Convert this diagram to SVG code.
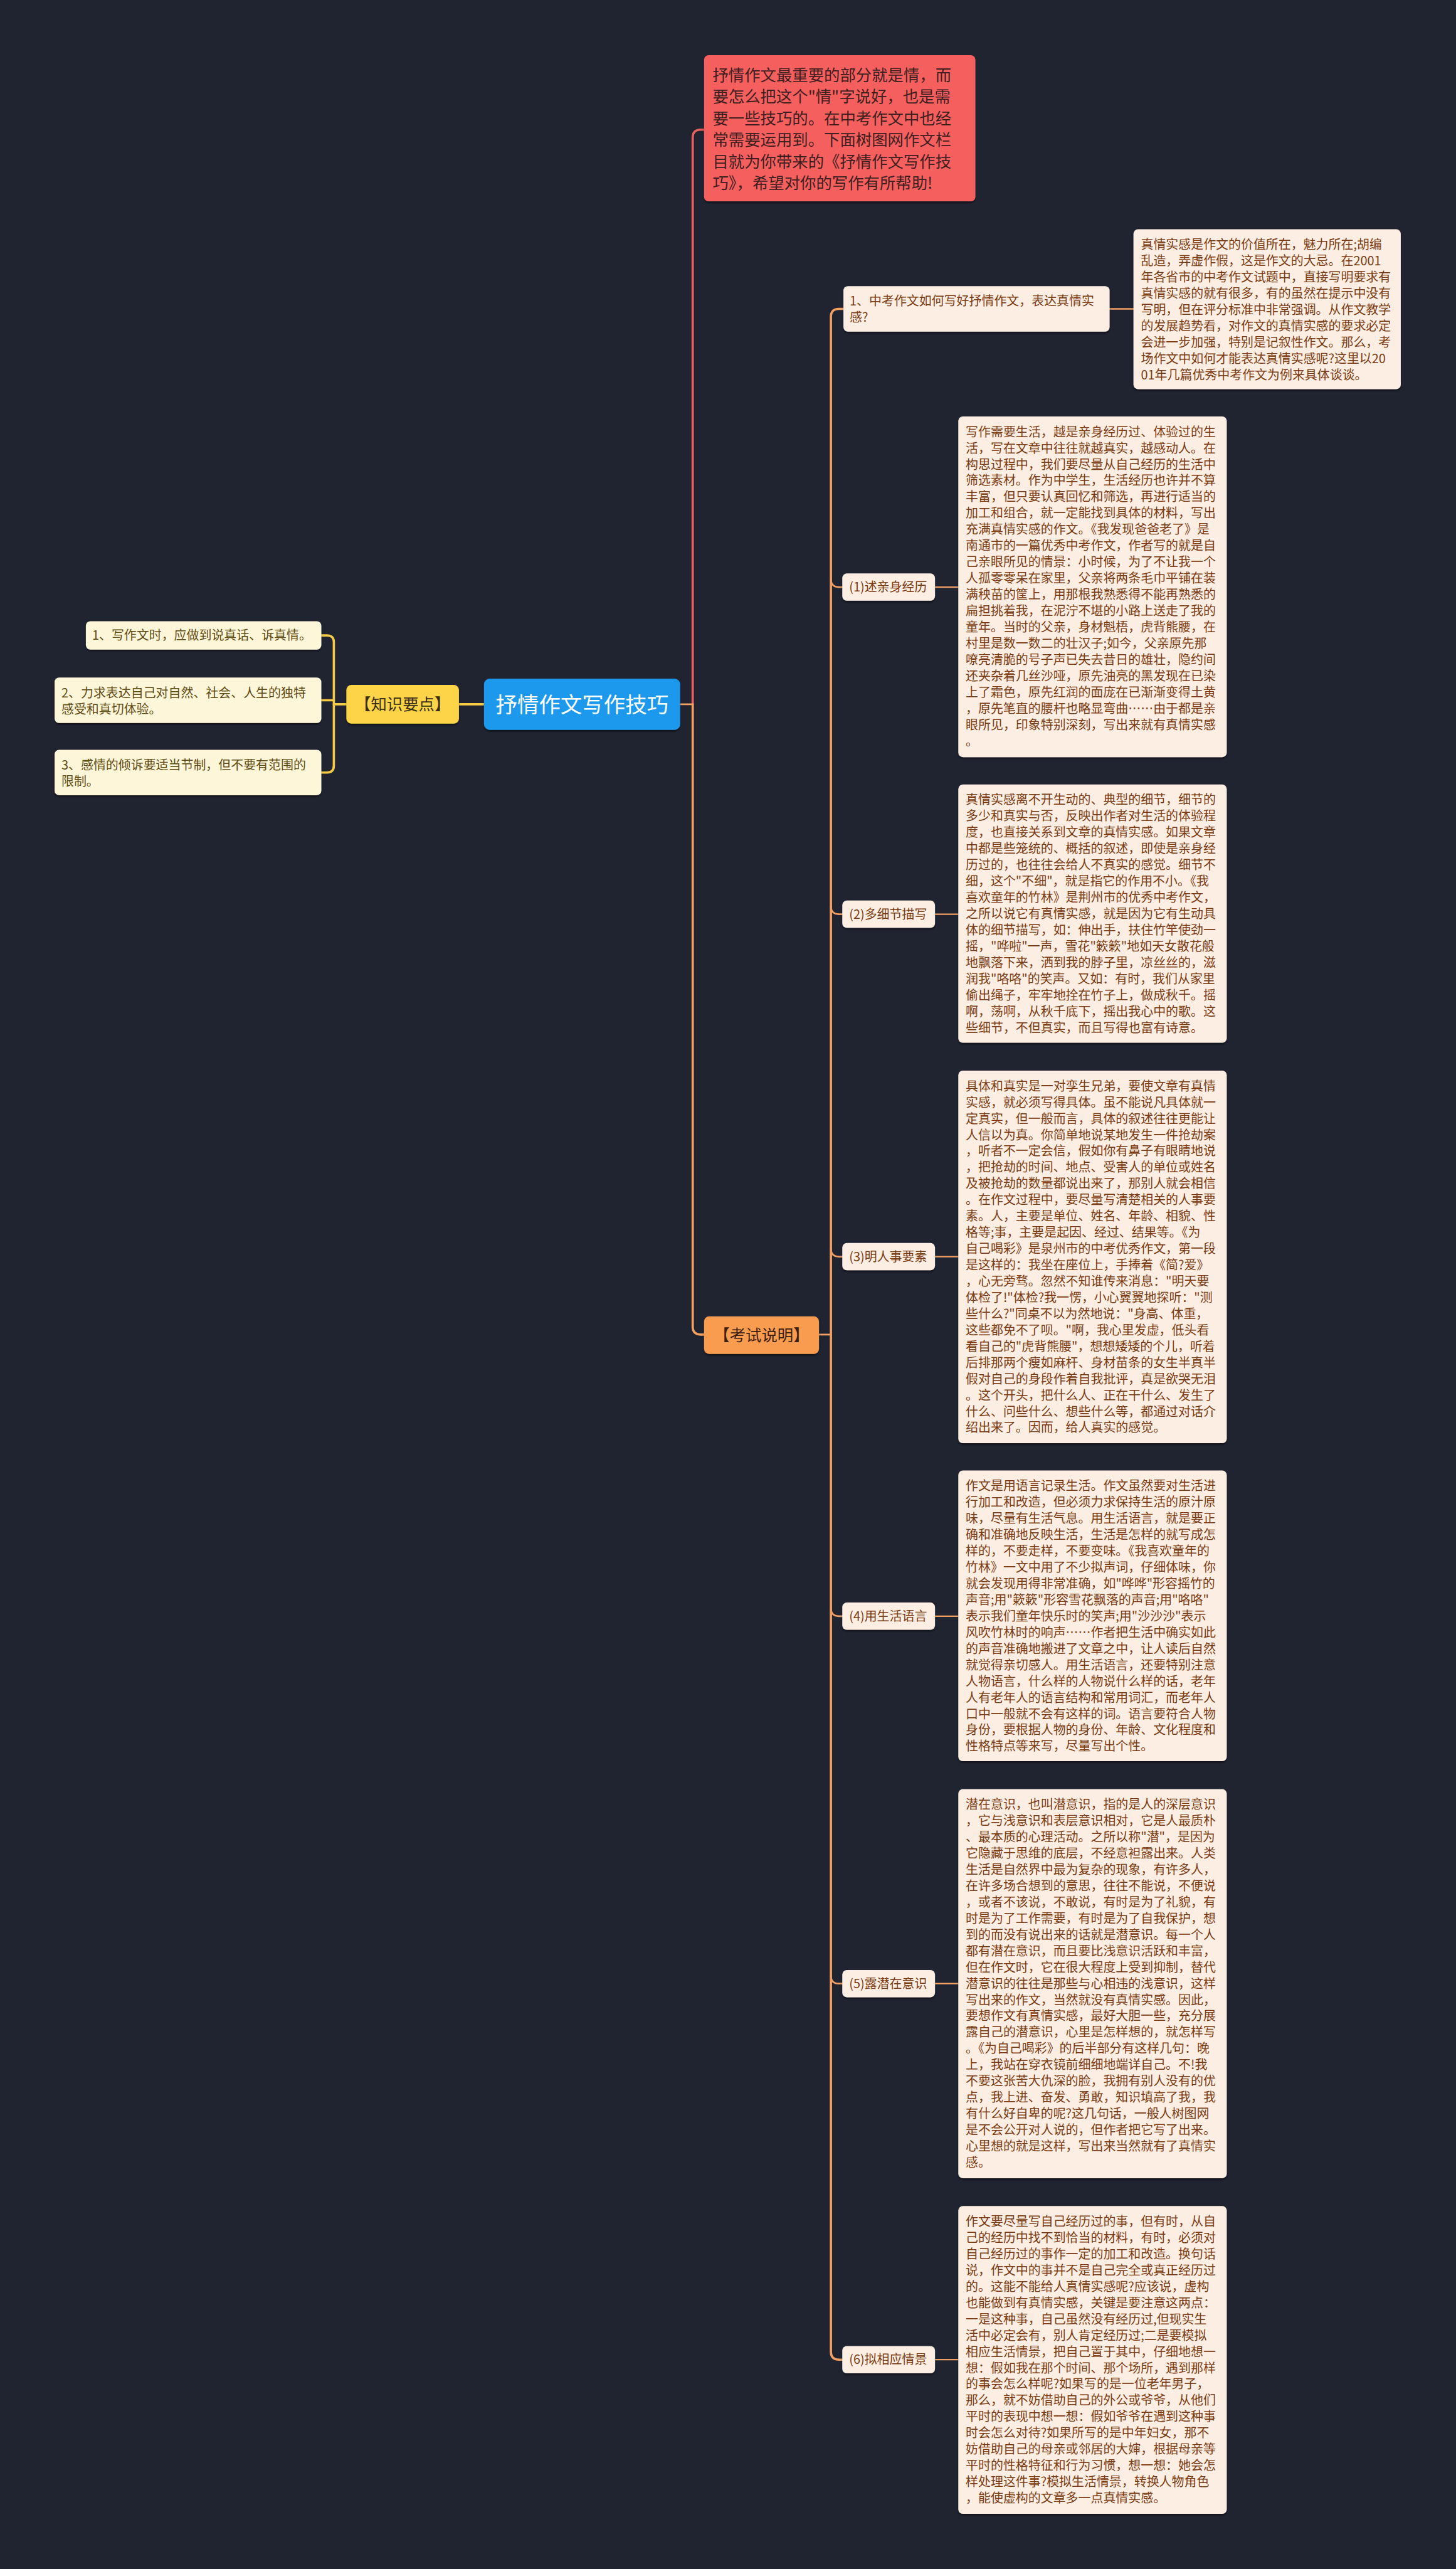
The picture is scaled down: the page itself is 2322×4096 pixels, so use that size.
<svg xmlns="http://www.w3.org/2000/svg" width="2322" height="4096" viewBox="0 0 2322 4096">
<defs>
<filter id="sh" x="-10%" y="-10%" width="120%" height="130%"><feDropShadow dx="0" dy="3" stdDeviation="2" flood-color="#000" flood-opacity="0.45"/></filter>
</defs>
<style>
text{font-family:'Noto Sans CJK SC','Noto Sans',sans-serif;}
.box{fill:#fdeee3;filter:url(#sh);}
.leaf{fill:#fdf6d9;filter:url(#sh);}
.lbl{fill:#fdeee3;filter:url(#sh);}
.t{font-size:22px;fill:#7a3b12;}
.tl{font-size:22px;fill:#5f4a12;}
.or{fill:none;stroke:#f2a063;stroke-linecap:round;}
.ye{fill:none;stroke:#f5cb45;stroke-linecap:round;}
.rd{fill:none;stroke:#e8605f;stroke-linecap:round;}
</style>
<rect x="0" y="0" width="2322" height="4096" fill="#202431"/>
<g transform="scale(0.907)">
<g id="connectors">
<path class="ye" stroke-width="4" d="M807 1238 L851 1238"/>
<path class="ye" stroke-width="4" d="M609 1238 L587 1238"/>
<path class="ye" stroke-width="4" d="M565 1117 L575 1117 Q587 1117 587 1129 L587 1346 Q587 1358 575 1358 L565 1358"/>
<path class="ye" stroke-width="4" d="M565 1231 L587 1231"/>
<path class="or" stroke-width="3" d="M1196 1238 L1218 1238"/>
<path class="rd" stroke-width="4" d="M1218 1238 L1218 242 Q1218 228 1232 228 L1238 228"/>
<path class="or" stroke-width="4" d="M1218 1238 L1218 2332 Q1218 2346 1232 2346 L1238 2346"/>
<path class="or" stroke-width="3" d="M1440 2346 L1461 2346"/>
<path class="or" stroke-width="4" d="M1483 543 L1475 543 Q1461 543 1461 557 L1461 4134 Q1461 4148 1475 4148 L1481 4148"/>
<path class="or" stroke-width="3" d="M1461 1018 Q1461 1032 1475 1032 L1481 1032"/>
<path class="or" stroke-width="3" d="M1461 1593 Q1461 1607 1475 1607 L1481 1607"/>
<path class="or" stroke-width="3" d="M1461 2195 Q1461 2209 1475 2209 L1481 2209"/>
<path class="or" stroke-width="3" d="M1461 2827 Q1461 2841 1475 2841 L1481 2841"/>
<path class="or" stroke-width="3" d="M1461 3473 Q1461 3487 1475 3487 L1481 3487"/>
<path class="or" stroke-width="2.5" d="M1951 543 L1993 543"/>
<path class="or" stroke-width="2.5" d="M1644 1032 L1685 1032"/>
<path class="or" stroke-width="2.5" d="M1644 1607 L1685 1607"/>
<path class="or" stroke-width="2.5" d="M1644 2209 L1685 2209"/>
<path class="or" stroke-width="2.5" d="M1644 2841 L1685 2841"/>
<path class="or" stroke-width="2.5" d="M1644 3487 L1685 3487"/>
<path class="or" stroke-width="2.5" d="M1644 4148 L1685 4148"/>
</g>
<g id="n-root">
<rect x="851" y="1193" width="345" height="90" rx="10" fill="#1e98ec" filter="url(#sh)"/>
<text x="1023.5" y="1252" font-size="38" fill="#ffffff" text-anchor="middle">抒情作文写作技巧</text>
</g>
<g id="n-knowledge">
<rect x="609" y="1204" width="198" height="68" rx="9" fill="#fdd446" filter="url(#sh)"/>
<text x="708" y="1248" font-size="28" fill="#3a2e10" text-anchor="middle">【知识要点】</text>
</g>
<g id="n-k1">
<rect class="leaf" x="151" y="1092" width="414" height="50" rx="8"/>
<text class="tl" x="162" y="1125">1、写作文时，应做到说真话、诉真情。</text>
</g>
<g id="n-k2">
<rect class="leaf" x="96" y="1191" width="469" height="80" rx="8"/>
<text class="tl" x="108" y="1226">2、力求表达自己对自然、社会、人生的独特<tspan x="108" dy="28.6">感受和真切体验。</tspan></text>
</g>
<g id="n-k3">
<rect class="leaf" x="96" y="1318" width="469" height="80" rx="8"/>
<text class="tl" x="108" y="1353">3、感情的倾诉要适当节制，但不要有范围的<tspan x="108" dy="28.6">限制。</tspan></text>
</g>
<g id="n-intro">
<rect x="1238" y="97" width="477" height="257" rx="8" fill="#f5605f" filter="url(#sh)"/>
<text x="1253" y="142" font-size="28" fill="#3e1e1e"><tspan x="1253">抒情作文最重要的部分就是情，而</tspan><tspan x="1253" dy="38">要怎么把这个"情"字说好，也是需</tspan><tspan x="1253" dy="38">要一些技巧的。在中考作文中也经</tspan><tspan x="1253" dy="38">常需要运用到。下面树图网作文栏</tspan><tspan x="1253" dy="38">目就为你带来的《抒情作文写作技</tspan><tspan x="1253" dy="38">巧》，希望对你的写作有所帮助!</tspan></text>
</g>
<g id="n-exam">
<rect x="1238" y="2314" width="202" height="66" rx="9" fill="#fa9c50" filter="url(#sh)"/>
<text x="1339" y="2357" font-size="28" fill="#3a2010" text-anchor="middle">【考试说明】</text>
</g>
<g id="n-q1">
<rect class="lbl" x="1483" y="503" width="468" height="80" rx="8"/>
<text class="t" x="1494" y="537">1、中考作文如何写好抒情作文，表达真情实<tspan x="1494" dy="28.6">感?</tspan></text>
</g>
<g id="n-q1-detail">
<rect class="box" x="1993" y="403" width="470" height="281" rx="8"/>
<text class="t" x="2006" y="438"><tspan x="2006">真情实感是作文的价值所在，魅力所在;胡编</tspan><tspan x="2006" dy="28.6">乱造，弄虚作假，这是作文的大忌。在2001</tspan><tspan x="2006" dy="28.6">年各省市的中考作文试题中，直接写明要求有</tspan><tspan x="2006" dy="28.6">真情实感的就有很多，有的虽然在提示中没有</tspan><tspan x="2006" dy="28.6">写明，但在评分标准中非常强调。从作文教学</tspan><tspan x="2006" dy="28.6">的发展趋势看，对作文的真情实感的要求必定</tspan><tspan x="2006" dy="28.6">会进一步加强，特别是记叙性作文。那么，考</tspan><tspan x="2006" dy="28.6">场作文中如何才能表达真情实感呢?这里以20</tspan><tspan x="2006" dy="28.6">01年几篇优秀中考作文为例来具体谈谈。</tspan></text>
</g>
<g id="n-s1">
<rect class="lbl" x="1481" y="1008" width="163" height="48" rx="8"/>
<text class="t" x="1493" y="1040">(1)述亲身经历</text>
</g>
<g id="n-s1-detail">
<rect class="box" x="1685" y="732" width="472" height="599" rx="8"/>
<text class="t" x="1698" y="767"><tspan x="1698">写作需要生活，越是亲身经历过、体验过的生</tspan><tspan x="1698" dy="28.6">活，写在文章中往往就越真实，越感动人。在</tspan><tspan x="1698" dy="28.6">构思过程中，我们要尽量从自己经历的生活中</tspan><tspan x="1698" dy="28.6">筛选素材。作为中学生，生活经历也许并不算</tspan><tspan x="1698" dy="28.6">丰富，但只要认真回忆和筛选，再进行适当的</tspan><tspan x="1698" dy="28.6">加工和组合，就一定能找到具体的材料，写出</tspan><tspan x="1698" dy="28.6">充满真情实感的作文。《我发现爸爸老了》是</tspan><tspan x="1698" dy="28.6">南通市的一篇优秀中考作文，作者写的就是自</tspan><tspan x="1698" dy="28.6">己亲眼所见的情景：小时候，为了不让我一个</tspan><tspan x="1698" dy="28.6">人孤零零呆在家里，父亲将两条毛巾平铺在装</tspan><tspan x="1698" dy="28.6">满秧苗的筐上，用那根我熟悉得不能再熟悉的</tspan><tspan x="1698" dy="28.6">扁担挑着我，在泥泞不堪的小路上送走了我的</tspan><tspan x="1698" dy="28.6">童年。当时的父亲，身材魁梧，虎背熊腰，在</tspan><tspan x="1698" dy="28.6">村里是数一数二的壮汉子;如今，父亲原先那</tspan><tspan x="1698" dy="28.6">嘹亮清脆的号子声已失去昔日的雄壮，隐约间</tspan><tspan x="1698" dy="28.6">还夹杂着几丝沙哑，原先油亮的黑发现在已染</tspan><tspan x="1698" dy="28.6">上了霜色，原先红润的面庞在已渐渐变得土黄</tspan><tspan x="1698" dy="28.6">，原先笔直的腰杆也略显弯曲……由于都是亲</tspan><tspan x="1698" dy="28.6">眼所见，印象特别深刻，写出来就有真情实感</tspan><tspan x="1698" dy="28.6">。</tspan></text>
</g>
<g id="n-s2">
<rect class="lbl" x="1481" y="1583" width="163" height="48" rx="8"/>
<text class="t" x="1493" y="1615">(2)多细节描写</text>
</g>
<g id="n-s2-detail">
<rect class="box" x="1685" y="1379" width="472" height="454" rx="8"/>
<text class="t" x="1698" y="1414"><tspan x="1698">真情实感离不开生动的、典型的细节，细节的</tspan><tspan x="1698" dy="28.6">多少和真实与否，反映出作者对生活的体验程</tspan><tspan x="1698" dy="28.6">度，也直接关系到文章的真情实感。如果文章</tspan><tspan x="1698" dy="28.6">中都是些笼统的、概括的叙述，即使是亲身经</tspan><tspan x="1698" dy="28.6">历过的，也往往会给人不真实的感觉。细节不</tspan><tspan x="1698" dy="28.6">细，这个"不细"，就是指它的作用不小。《我</tspan><tspan x="1698" dy="28.6">喜欢童年的竹林》是荆州市的优秀中考作文，</tspan><tspan x="1698" dy="28.6">之所以说它有真情实感，就是因为它有生动具</tspan><tspan x="1698" dy="28.6">体的细节描写，如：伸出手，扶住竹竿使劲一</tspan><tspan x="1698" dy="28.6">摇，"哗啦"一声，雪花"簌簌"地如天女散花般</tspan><tspan x="1698" dy="28.6">地飘落下来，洒到我的脖子里，凉丝丝的，滋</tspan><tspan x="1698" dy="28.6">润我"咯咯"的笑声。又如：有时，我们从家里</tspan><tspan x="1698" dy="28.6">偷出绳子，牢牢地拴在竹子上，做成秋千。摇</tspan><tspan x="1698" dy="28.6">啊，荡啊，从秋千底下，摇出我心中的歌。这</tspan><tspan x="1698" dy="28.6">些细节，不但真实，而且写得也富有诗意。</tspan></text>
</g>
<g id="n-s3">
<rect class="lbl" x="1481" y="2185" width="163" height="48" rx="8"/>
<text class="t" x="1493" y="2217">(3)明人事要素</text>
</g>
<g id="n-s3-detail">
<rect class="box" x="1685" y="1882" width="472" height="655" rx="8"/>
<text class="t" x="1698" y="1917"><tspan x="1698">具体和真实是一对孪生兄弟，要使文章有真情</tspan><tspan x="1698" dy="28.6">实感，就必须写得具体。虽不能说凡具体就一</tspan><tspan x="1698" dy="28.6">定真实，但一般而言，具体的叙述往往更能让</tspan><tspan x="1698" dy="28.6">人信以为真。你简单地说某地发生一件抢劫案</tspan><tspan x="1698" dy="28.6">，听者不一定会信，假如你有鼻子有眼睛地说</tspan><tspan x="1698" dy="28.6">，把抢劫的时间、地点、受害人的单位或姓名</tspan><tspan x="1698" dy="28.6">及被抢劫的数量都说出来了，那别人就会相信</tspan><tspan x="1698" dy="28.6">。在作文过程中，要尽量写清楚相关的人事要</tspan><tspan x="1698" dy="28.6">素。人，主要是单位、姓名、年龄、相貌、性</tspan><tspan x="1698" dy="28.6">格等;事，主要是起因、经过、结果等。《为</tspan><tspan x="1698" dy="28.6">自己喝彩》是泉州市的中考优秀作文，第一段</tspan><tspan x="1698" dy="28.6">是这样的：我坐在座位上，手捧着《简?爱》</tspan><tspan x="1698" dy="28.6">，心无旁骛。忽然不知谁传来消息："明天要</tspan><tspan x="1698" dy="28.6">体检了!"体检?我一愣，小心翼翼地探听："测</tspan><tspan x="1698" dy="28.6">些什么?"同桌不以为然地说："身高、体重，</tspan><tspan x="1698" dy="28.6">这些都免不了呗。"啊，我心里发虚，低头看</tspan><tspan x="1698" dy="28.6">看自己的"虎背熊腰"，想想矮矮的个儿，听着</tspan><tspan x="1698" dy="28.6">后排那两个瘦如麻杆、身材苗条的女生半真半</tspan><tspan x="1698" dy="28.6">假对自己的身段作着自我批评，真是欲哭无泪</tspan><tspan x="1698" dy="28.6">。这个开头，把什么人、正在干什么、发生了</tspan><tspan x="1698" dy="28.6">什么、问些什么、想些什么等，都通过对话介</tspan><tspan x="1698" dy="28.6">绍出来了。因而，给人真实的感觉。</tspan></text>
</g>
<g id="n-s4">
<rect class="lbl" x="1481" y="2817" width="163" height="48" rx="8"/>
<text class="t" x="1493" y="2849">(4)用生活语言</text>
</g>
<g id="n-s4-detail">
<rect class="box" x="1685" y="2585" width="472" height="511" rx="8"/>
<text class="t" x="1698" y="2620"><tspan x="1698">作文是用语言记录生活。作文虽然要对生活进</tspan><tspan x="1698" dy="28.6">行加工和改造，但必须力求保持生活的原汁原</tspan><tspan x="1698" dy="28.6">味，尽量有生活气息。用生活语言，就是要正</tspan><tspan x="1698" dy="28.6">确和准确地反映生活，生活是怎样的就写成怎</tspan><tspan x="1698" dy="28.6">样的，不要走样，不要变味。《我喜欢童年的</tspan><tspan x="1698" dy="28.6">竹林》一文中用了不少拟声词，仔细体味，你</tspan><tspan x="1698" dy="28.6">就会发现用得非常准确，如"哗哗"形容摇竹的</tspan><tspan x="1698" dy="28.6">声音;用"簌簌"形容雪花飘落的声音;用"咯咯"</tspan><tspan x="1698" dy="28.6">表示我们童年快乐时的笑声;用"沙沙沙"表示</tspan><tspan x="1698" dy="28.6">风吹竹林时的响声……作者把生活中确实如此</tspan><tspan x="1698" dy="28.6">的声音准确地搬进了文章之中，让人读后自然</tspan><tspan x="1698" dy="28.6">就觉得亲切感人。用生活语言，还要特别注意</tspan><tspan x="1698" dy="28.6">人物语言，什么样的人物说什么样的话，老年</tspan><tspan x="1698" dy="28.6">人有老年人的语言结构和常用词汇，而老年人</tspan><tspan x="1698" dy="28.6">口中一般就不会有这样的词。语言要符合人物</tspan><tspan x="1698" dy="28.6">身份，要根据人物的身份、年龄、文化程度和</tspan><tspan x="1698" dy="28.6">性格特点等来写，尽量写出个性。</tspan></text>
</g>
<g id="n-s5">
<rect class="lbl" x="1481" y="3463" width="163" height="48" rx="8"/>
<text class="t" x="1493" y="3495">(5)露潜在意识</text>
</g>
<g id="n-s5-detail">
<rect class="box" x="1685" y="3145" width="472" height="684" rx="8"/>
<text class="t" x="1698" y="3180"><tspan x="1698">潜在意识，也叫潜意识，指的是人的深层意识</tspan><tspan x="1698" dy="28.6">，它与浅意识和表层意识相对，它是人最质朴</tspan><tspan x="1698" dy="28.6">、最本质的心理活动。之所以称"潜"，是因为</tspan><tspan x="1698" dy="28.6">它隐藏于思维的底层，不经意袒露出来。人类</tspan><tspan x="1698" dy="28.6">生活是自然界中最为复杂的现象，有许多人，</tspan><tspan x="1698" dy="28.6">在许多场合想到的意思，往往不能说，不便说</tspan><tspan x="1698" dy="28.6">，或者不该说，不敢说，有时是为了礼貌，有</tspan><tspan x="1698" dy="28.6">时是为了工作需要，有时是为了自我保护，想</tspan><tspan x="1698" dy="28.6">到的而没有说出来的话就是潜意识。每一个人</tspan><tspan x="1698" dy="28.6">都有潜在意识，而且要比浅意识活跃和丰富，</tspan><tspan x="1698" dy="28.6">但在作文时，它在很大程度上受到抑制，替代</tspan><tspan x="1698" dy="28.6">潜意识的往往是那些与心相违的浅意识，这样</tspan><tspan x="1698" dy="28.6">写出来的作文，当然就没有真情实感。因此，</tspan><tspan x="1698" dy="28.6">要想作文有真情实感，最好大胆一些，充分展</tspan><tspan x="1698" dy="28.6">露自己的潜意识，心里是怎样想的，就怎样写</tspan><tspan x="1698" dy="28.6">。《为自己喝彩》的后半部分有这样几句：晚</tspan><tspan x="1698" dy="28.6">上，我站在穿衣镜前细细地端详自己。不!我</tspan><tspan x="1698" dy="28.6">不要这张苦大仇深的脸，我拥有别人没有的优</tspan><tspan x="1698" dy="28.6">点，我上进、奋发、勇敢，知识填高了我，我</tspan><tspan x="1698" dy="28.6">有什么好自卑的呢?这几句话，一般人树图网</tspan><tspan x="1698" dy="28.6">是不会公开对人说的，但作者把它写了出来。</tspan><tspan x="1698" dy="28.6">心里想的就是这样，写出来当然就有了真情实</tspan><tspan x="1698" dy="28.6">感。</tspan></text>
</g>
<g id="n-s6">
<rect class="lbl" x="1481" y="4124" width="163" height="48" rx="8"/>
<text class="t" x="1493" y="4156">(6)拟相应情景</text>
</g>
<g id="n-s6-detail">
<rect class="box" x="1685" y="3878" width="472" height="541" rx="8"/>
<text class="t" x="1698" y="3913"><tspan x="1698">作文要尽量写自己经历过的事，但有时，从自</tspan><tspan x="1698" dy="28.6">己的经历中找不到恰当的材料，有时，必须对</tspan><tspan x="1698" dy="28.6">自己经历过的事作一定的加工和改造。换句话</tspan><tspan x="1698" dy="28.6">说，作文中的事并不是自己完全或真正经历过</tspan><tspan x="1698" dy="28.6">的。这能不能给人真情实感呢?应该说，虚构</tspan><tspan x="1698" dy="28.6">也能做到有真情实感，关键是要注意这两点：</tspan><tspan x="1698" dy="28.6">一是这种事，自己虽然没有经历过,但现实生</tspan><tspan x="1698" dy="28.6">活中必定会有，别人肯定经历过;二是要模拟</tspan><tspan x="1698" dy="28.6">相应生活情景，把自己置于其中，仔细地想一</tspan><tspan x="1698" dy="28.6">想：假如我在那个时间、那个场所，遇到那样</tspan><tspan x="1698" dy="28.6">的事会怎么样呢?如果写的是一位老年男子，</tspan><tspan x="1698" dy="28.6">那么，就不妨借助自己的外公或爷爷，从他们</tspan><tspan x="1698" dy="28.6">平时的表现中想一想：假如爷爷在遇到这种事</tspan><tspan x="1698" dy="28.6">时会怎么对待?如果所写的是中年妇女，那不</tspan><tspan x="1698" dy="28.6">妨借助自己的母亲或邻居的大婶，根据母亲等</tspan><tspan x="1698" dy="28.6">平时的性格特征和行为习惯，想一想：她会怎</tspan><tspan x="1698" dy="28.6">样处理这件事?模拟生活情景，转换人物角色</tspan><tspan x="1698" dy="28.6">，能使虚构的文章多一点真情实感。</tspan></text>
</g>
</g>
</svg>
